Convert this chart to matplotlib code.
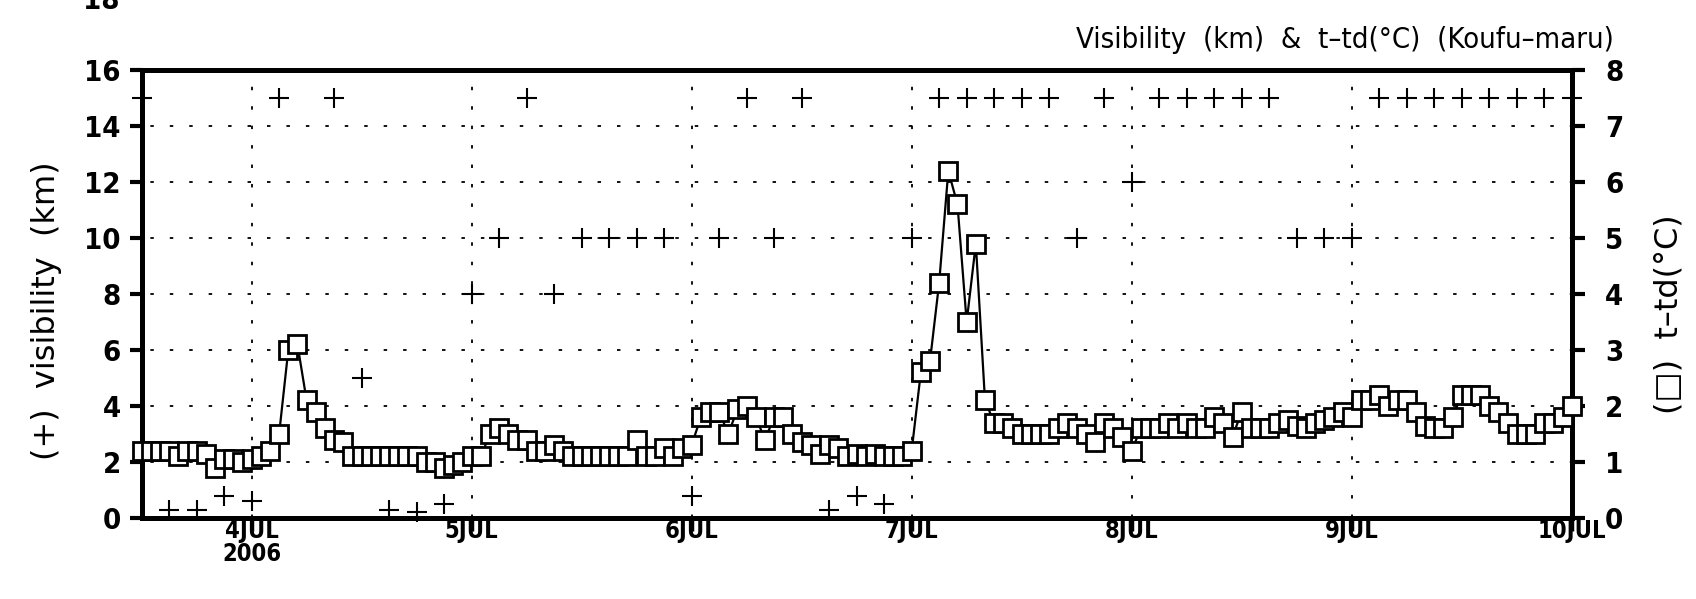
import numpy as np
import pandas as pd
import matplotlib
matplotlib.use('Agg')
import matplotlib.pyplot as plt

plt.rcParams['lines.scale_dashes'] = False

# === DATA ===
# t-td (deg C), hourly from 2006-07-03 12UTC to 2006-07-10 00UTC
ttd = [
    1.2, 1.2, 1.2, 1.2, 1.1, 1.2, 1.2, 1.15, 0.9, 1.05, 1.05, 1.0,      # 3JUL 12-23
    1.05, 1.1, 1.2, 1.5, 3.0, 3.1, 2.1, 1.9, 1.6, 1.4, 1.35, 1.1,       # 4JUL 00-11
    1.1, 1.1, 1.1, 1.1, 1.1, 1.1, 1.1, 1.0, 1.0, 0.9, 0.95, 1.0,        # 4JUL 12-23
    1.1, 1.1, 1.5, 1.6, 1.5, 1.4, 1.4, 1.2, 1.2, 1.3, 1.2, 1.1,         # 5JUL 00-11
    1.1, 1.1, 1.1, 1.1, 1.1, 1.1, 1.4, 1.1, 1.1, 1.25, 1.1, 1.25,       # 5JUL 12-23
    1.3, 1.8, 1.9, 1.9, 1.5, 1.95, 2.0, 1.8, 1.4, 1.8, 1.8, 1.5,        # 6JUL 00-11
    1.35, 1.3, 1.15, 1.3, 1.25, 1.1, 1.15, 1.1, 1.15, 1.1, 1.1, 1.1,    # 6JUL 12-23
    1.2, 2.6, 2.8, 4.2, 6.2, 5.6, 3.5, 4.9, 2.1, 1.7, 1.7, 1.6,         # 7JUL 00-11
    1.5, 1.5, 1.5, 1.5, 1.6, 1.7, 1.6, 1.5, 1.35, 1.7, 1.6, 1.45,       # 7JUL 12-23
    1.2, 1.6, 1.6, 1.6, 1.7, 1.6, 1.7, 1.6, 1.6, 1.8, 1.7, 1.45,        # 8JUL 00-11
    1.9, 1.6, 1.6, 1.6, 1.7, 1.75, 1.65, 1.6, 1.7, 1.75, 1.8, 1.9,      # 8JUL 12-23
    1.8, 2.1, 2.1, 2.2, 2.0, 2.1, 2.1, 1.9, 1.65, 1.6, 1.6, 1.8,        # 9JUL 00-11
    2.2, 2.2, 2.2, 2.0, 1.9, 1.7, 1.5, 1.5, 1.5, 1.7, 1.7, 1.8,         # 9JUL 12-23
    2.0,                                                                # 10JUL 00
]

# visibility (km), 3-hourly from 2006-07-03 12UTC, nan = missing
vis = [
    15, 0.3, 0.3, 0.8,                       # 3JUL 12-21
    0.6, 15, np.nan, 15, 5, 0.3, 0.2, 0.5,   # 4JUL
    8, 10, 15, 8, 10, 10, 10, 10,            # 5JUL
    0.8, 10, 15, 10, 15, 0.3, 0.8, 0.5,      # 6JUL
    10, 15, 15, 15, 15, 15, 10, 15,          # 7JUL
    12, 15, 15, 15, 15, 15, 10, 10,          # 8JUL
    10, 15, 15, 15, 15, 15, 15, 15,          # 9JUL
    15,                                      # 10JUL 00
]

day_ticks = ['2006-07-04', '2006-07-05', '2006-07-06', '2006-07-07',
             '2006-07-08', '2006-07-09', '2006-07-10']
day_labels = ['4JUL\n2006', '5JUL', '6JUL', '7JUL', '8JUL', '9JUL', '10JUL']

t_ttd = pd.date_range('2006-07-03 12:00', periods=len(ttd), freq='h')
t_vis = pd.date_range('2006-07-03 12:00', periods=len(vis), freq='3h')

cond = dict(family=['DejaVu Sans'], fontstretch='condensed')

fig = plt.figure(figsize=(16.96, 5.99), dpi=100)
ax = fig.add_axes([0.0835, 0.1352, 0.8432, 0.7479])
ax2 = ax.twinx()

# === VISIBILITY (+) ===
ax.plot(t_vis, vis, linestyle='none', marker='+', markersize=15,
        markeredgewidth=1.5, color='black', clip_on=False, zorder=3)

# === T-TD (squares) ===
ax2.plot(t_ttd, ttd, color='black', linewidth=1.6, marker='s', markersize=12.5,
         markerfacecolor='white', markeredgecolor='black', markeredgewidth=2.0,
         clip_on=False, zorder=4)

ax.set_xlim(pd.Timestamp('2006-07-03 12:00'), pd.Timestamp('2006-07-10 00:00'))
ax.set_ylim(0, 16)
ax2.set_ylim(0, 8)

ax.set_xticks(pd.to_datetime(day_ticks))
ax.set_xticklabels(day_labels, fontsize=17, fontweight='bold',
                   linespacing=0.9, **cond)
ax.set_yticks(np.arange(0, 17, 2))
ax.set_yticklabels([str(v) for v in range(0, 17, 2)], fontsize=21,
                   fontweight='bold', **cond)
ax2.set_yticks(np.arange(0, 9, 1))
ax2.set_yticklabels([str(v) for v in range(0, 9)], fontsize=21,
                    fontweight='bold', **cond)

ax.tick_params(axis='x', direction='out', length=9, width=2.5, pad=-8)
ax.tick_params(axis='y', direction='out', length=9, width=3, pad=6)
ax2.tick_params(axis='y', direction='out', length=9, width=3, pad=15)

# dotted grid
for d in pd.to_datetime(day_ticks[:-1]):
    ax.axvline(d, color='black', linewidth=1.3, linestyle=(0, (2.5, 11.5)), zorder=1)
for v in range(2, 16, 2):
    ax.axhline(v, color='black', linewidth=1.3, linestyle=(8, (2.5, 11.5)), zorder=1)

for a in (ax, ax2):
    for s in a.spines.values():
        s.set_linewidth(3.5)

ax.set_ylabel('(+)  visibility  (km)', fontsize=23, family=['DejaVu Sans'])
ax.yaxis.set_label_coords(-0.056, 0.462)
ax2.set_ylabel('(\u25a1)  t\u2013td(\u00b0C)', fontsize=23, family=['DejaVu Sans'])
ax2.yaxis.set_label_coords(1.057, 0.456)

fig.text(1614 / 1696, 1 - 40 / 599, 'Visibility  (km)  &  t\u2013td(\u00b0C)  (Koufu\u2013maru)',
         ha='right', va='center', fontsize=21, **cond)
fig.text(120 / 1696, 1 - 9 / 599, '18', ha='right', va='baseline',
         fontsize=21, fontweight='bold', **cond)

fig.savefig('out.png', dpi=100)
